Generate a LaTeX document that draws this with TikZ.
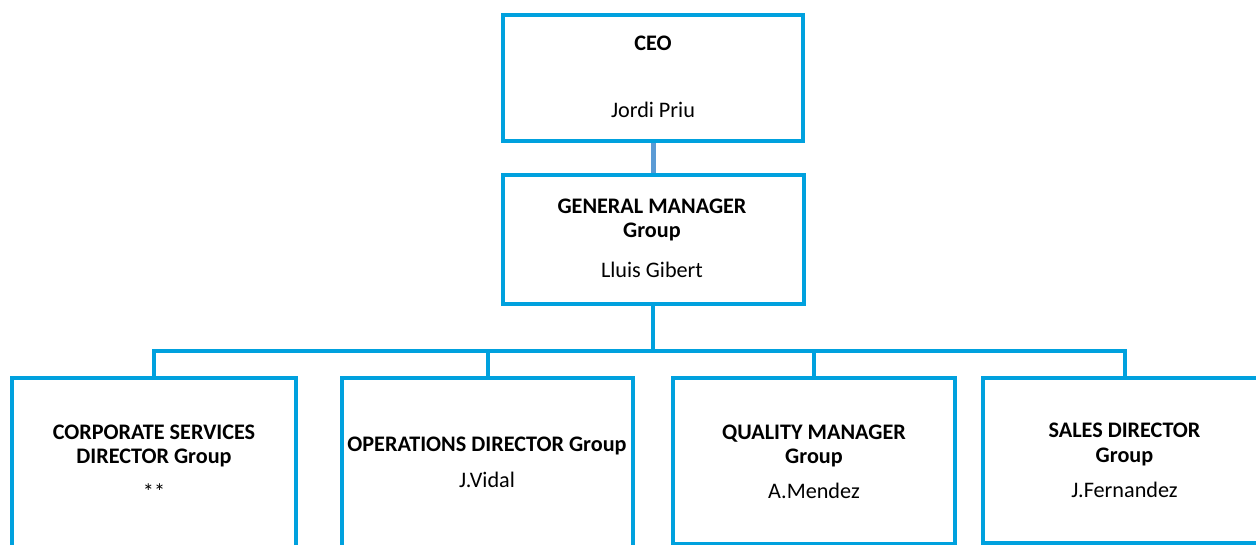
\documentclass[tikz,border=0pt]{standalone}
\usepackage{fontspec}
\setmainfont{Carlito}
\usetikzlibrary{positioning}
\definecolor{boxblue}{RGB}{0,161,222}
\definecolor{linkblue}{RGB}{91,155,213}
\tikzset{
	orgbox/.style={draw=boxblue, line width=4pt, rectangle, inner sep=0pt},
	link/.style={draw=boxblue, line width=4pt},
	toplink/.style={draw=linkblue, line width=5pt},
	title/.style={font=\fontsize{22.2}{24.5}\selectfont\bfseries, align=center, anchor=base, inner sep=0pt},
	who/.style={font=\fontsize{22.2}{24}\selectfont, anchor=base, inner sep=0pt}
}
\begin{document}
\begin{tikzpicture}[x=1pt,y=-1pt]
		\useasboundingbox (0,0) rectangle (1256,545);
		\clip (0,0) rectangle (1256,545);
		% boxes
		\node[orgbox, minimum width=300pt, minimum height=126pt] (ceo) at (653,78) {};
		\node[orgbox, minimum width=301pt, minimum height=129pt] (gm) at (653,239.5) {};
		\node[orgbox, minimum width=284pt, minimum height=190pt] (corp) at (154,473) {};
		\node[orgbox, minimum width=291pt, minimum height=190pt] (ops) at (487.5,473) {};
		\node[orgbox, minimum width=282pt, minimum height=166pt] (qual) at (814,461) {};
		\node[orgbox, minimum width=283pt, minimum height=165pt] (sales) at (1124.5,460.5) {};
		% texts (base = last line)
		\node[title] (ceot) at (653,51) {CEO};
		\node[who] (ceon) at (653,118) {Jordi Priu};
		\node[title] (gmt) at (652,238) {GENERAL MANAGER\\Group};
		\node[who] (gmn) at (652,278) {Lluis Gibert};
		\node[title] (corpt) at (154,463.5) {CORPORATE SERVICES\\DIRECTOR Group};
		\node[who] (corpn) at (154,499) {**};
		\node[title] (opst) at (487,451) {OPERATIONS DIRECTOR Group};
		\node[who] (opsn) at (487,487.5) {J.Vidal};
		\node[title] (qualt) at (814,463.5) {QUALITY MANAGER\\Group};
		\node[who] (qualn) at (814,498) {A.Mendez};
		\node[title] (salest) at (1124.5,462) {SALES DIRECTOR\\Group};
		\node[who] (salesn) at (1124.5,497) {J.Fernandez};
		% connectors
		\coordinate (bus) at (653,351);
		\draw[toplink] (ceo.south) -- (gm.north);
		\draw[link] (gm.south) -- (bus);
		\foreach \c in {corp,ops,qual,sales}
		{
			\draw[link] (bus) -| (\c.north);
		}
\end{tikzpicture}
\end{document}
